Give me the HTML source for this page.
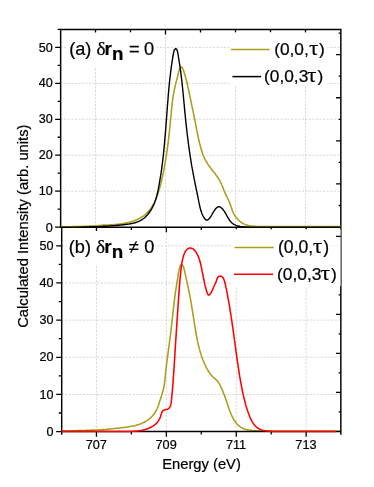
<!DOCTYPE html>
<html><head><meta charset="utf-8"><title>chart</title>
<style>html,body{margin:0;padding:0;background:#fff;}body{width:374px;height:487px;position:relative;overflow:hidden;font-family:"Liberation Sans",sans-serif;}</style>
</head><body>
<svg width="374" height="487" viewBox="0 0 374 487" style="position:absolute;left:0;top:0;will-change:transform">
<rect width="374" height="487" fill="#fff"/>
<path d="M60.50,191.16H341.00M61.50,394.44H341.00M60.50,155.22H341.00M61.50,357.28H341.00M60.50,119.28H341.00M61.50,320.12H341.00M60.50,83.34H341.00M61.50,282.96H341.00M60.50,47.40H341.00M61.50,245.80H341.00M95.50,29.50V227.10M96.45,227.10V431.60M165.50,29.50V227.10M166.35,227.10V431.60M235.50,29.50V227.10M236.25,227.10V431.60M305.50,29.50V227.10M306.15,227.10V431.60" stroke="#c6c6c6" stroke-width="0.7" stroke-dasharray="2.1,1.45" fill="none"/>
<path d="M61.5,431.0 L62.1,431.0 L62.7,431.0 L63.3,431.0 L63.9,431.0 L64.5,431.0 L65.1,430.9 L65.7,430.9 L66.3,430.9 L66.9,430.9 L67.5,430.9 L68.1,430.9 L68.7,430.9 L69.3,430.9 L69.9,430.8 L70.5,430.8 L71.1,430.8 L71.7,430.8 L72.3,430.8 L72.9,430.8 L73.5,430.8 L74.1,430.7 L74.7,430.7 L75.3,430.7 L75.9,430.7 L76.5,430.7 L77.1,430.7 L77.7,430.6 L78.3,430.6 L78.9,430.6 L79.5,430.6 L80.1,430.6 L80.7,430.5 L81.3,430.5 L81.9,430.5 L82.5,430.5 L83.1,430.5 L83.7,430.4 L84.3,430.4 L84.9,430.4 L85.5,430.4 L86.1,430.3 L86.7,430.3 L87.3,430.3 L87.9,430.3 L88.5,430.3 L89.1,430.2 L89.7,430.2 L90.3,430.2 L90.9,430.2 L91.5,430.1 L92.1,430.1 L92.7,430.1 L93.3,430.1 L93.9,430.0 L94.5,430.0 L95.1,430.0 L95.7,430.0 L96.3,429.9 L96.9,429.9 L97.5,429.9 L98.1,429.9 L98.7,429.9 L99.3,429.8 L99.9,429.8 L100.5,429.8 L101.1,429.8 L101.7,429.7 L102.3,429.7 L102.9,429.6 L103.5,429.6 L104.1,429.6 L104.7,429.5 L105.3,429.5 L105.9,429.4 L106.5,429.4 L107.1,429.3 L107.7,429.2 L108.3,429.2 L108.8,429.1 L109.4,429.1 L110.0,429.0 L110.6,428.9 L111.2,428.9 L111.8,428.8 L112.4,428.7 L113.0,428.7 L113.6,428.6 L114.2,428.5 L114.8,428.5 L115.4,428.4 L116.0,428.3 L116.6,428.3 L117.2,428.2 L117.8,428.1 L118.4,428.1 L119.0,428.0 L119.6,427.9 L120.2,427.9 L120.8,427.8 L121.4,427.7 L122.0,427.7 L122.6,427.6 L123.2,427.5 L123.8,427.5 L124.4,427.4 L125.0,427.3 L125.6,427.2 L126.2,427.2 L126.8,427.1 L127.4,427.0 L128.0,426.9 L128.6,426.8 L129.2,426.7 L129.8,426.6 L130.4,426.5 L130.9,426.4 L131.5,426.3 L132.1,426.2 L132.7,426.1 L133.3,426.0 L133.9,425.9 L134.5,425.7 L135.1,425.6 L135.6,425.4 L136.2,425.3 L136.8,425.1 L137.4,425.0 L137.9,424.8 L138.5,424.6 L139.1,424.4 L139.6,424.2 L140.2,424.0 L140.7,423.8 L141.3,423.6 L141.8,423.3 L142.4,423.1 L142.9,422.8 L143.5,422.6 L144.0,422.3 L144.5,422.0 L145.0,421.7 L145.6,421.4 L146.1,421.1 L146.6,420.8 L147.1,420.5 L147.6,420.1 L148.1,419.8 L148.6,419.4 L149.0,419.0 L149.5,418.7 L150.0,418.3 L150.4,417.9 L150.9,417.5 L151.3,417.1 L151.7,416.7 L152.1,416.2 L152.5,415.8 L152.9,415.3 L153.3,414.9 L153.7,414.4 L154.1,414.0 L154.4,413.5 L154.8,413.0 L155.1,412.5 L155.4,412.0 L155.7,411.5 L156.0,411.0 L156.3,410.4 L156.5,409.9 L156.8,409.4 L157.1,408.8 L157.3,408.3 L157.5,407.7 L157.7,407.1 L158.0,406.6 L158.2,406.0 L158.4,405.4 L158.6,404.9 L158.8,404.3 L158.9,403.7 L159.1,403.1 L159.3,402.5 L159.5,402.0 L159.7,401.4 L159.9,400.8 L160.0,400.2 L160.2,399.7 L160.4,399.1 L160.6,398.5 L160.8,397.9 L161.0,397.4 L161.2,396.8 L161.4,396.2 L161.5,395.6 L161.7,395.1 L161.9,394.5 L162.1,393.9 L162.3,393.4 L162.4,392.8 L162.6,392.2 L162.8,391.6 L162.9,391.1 L163.1,390.5 L163.2,389.9 L163.4,389.3 L163.5,388.8 L163.6,388.2 L163.8,387.6 L163.9,387.0 L164.0,386.4 L164.1,385.9 L164.2,385.3 L164.3,384.7 L164.4,384.1 L164.5,383.5 L164.6,382.9 L164.6,382.3 L164.7,381.7 L164.8,381.1 L164.9,380.5 L164.9,379.9 L165.0,379.3 L165.0,378.7 L165.1,378.1 L165.2,377.5 L165.2,376.9 L165.3,376.3 L165.3,375.7 L165.4,375.1 L165.4,374.5 L165.5,373.9 L165.6,373.3 L165.6,372.7 L165.7,372.1 L165.7,371.5 L165.8,370.9 L165.9,370.3 L165.9,369.7 L166.0,369.1 L166.1,368.5 L166.1,367.9 L166.2,367.3 L166.3,366.7 L166.3,366.2 L166.4,365.6 L166.5,365.0 L166.5,364.4 L166.6,363.8 L166.7,363.2 L166.8,362.6 L166.8,362.0 L166.9,361.4 L167.0,360.8 L167.1,360.2 L167.2,359.6 L167.2,359.0 L167.3,358.4 L167.4,357.8 L167.5,357.2 L167.5,356.6 L167.6,356.0 L167.7,355.4 L167.8,354.8 L167.9,354.3 L168.0,353.7 L168.0,353.1 L168.1,352.5 L168.2,351.9 L168.3,351.3 L168.4,350.7 L168.4,350.1 L168.5,349.5 L168.6,348.9 L168.7,348.3 L168.8,347.7 L168.9,347.1 L168.9,346.5 L169.0,345.9 L169.1,345.3 L169.2,344.8 L169.3,344.2 L169.3,343.6 L169.4,343.0 L169.5,342.4 L169.6,341.8 L169.7,341.2 L169.7,340.6 L169.8,340.0 L169.9,339.4 L170.0,338.8 L170.0,338.2 L170.1,337.6 L170.2,337.0 L170.3,336.4 L170.3,335.8 L170.4,335.2 L170.5,334.6 L170.6,334.0 L170.6,333.4 L170.7,332.8 L170.8,332.2 L170.8,331.7 L170.9,331.1 L171.0,330.5 L171.1,329.9 L171.1,329.3 L171.2,328.7 L171.3,328.1 L171.3,327.5 L171.4,326.9 L171.5,326.3 L171.6,325.7 L171.6,325.1 L171.7,324.5 L171.8,323.9 L171.8,323.3 L171.9,322.7 L172.0,322.1 L172.0,321.5 L172.1,320.9 L172.2,320.3 L172.2,319.7 L172.3,319.1 L172.4,318.5 L172.4,317.9 L172.5,317.3 L172.6,316.7 L172.6,316.1 L172.7,315.6 L172.8,315.0 L172.8,314.4 L172.9,313.8 L172.9,313.2 L173.0,312.6 L173.1,312.0 L173.1,311.4 L173.2,310.8 L173.3,310.2 L173.3,309.6 L173.4,309.0 L173.5,308.4 L173.5,307.8 L173.6,307.2 L173.7,306.6 L173.7,306.0 L173.8,305.4 L173.9,304.8 L173.9,304.2 L174.0,303.6 L174.1,303.1 L174.1,302.5 L174.2,301.9 L174.3,301.3 L174.4,300.7 L174.4,300.1 L174.5,299.5 L174.6,298.9 L174.7,298.3 L174.7,297.7 L174.8,297.1 L174.9,296.5 L175.0,295.9 L175.0,295.3 L175.1,294.7 L175.2,294.1 L175.3,293.5 L175.4,292.9 L175.5,292.3 L175.5,291.7 L175.6,291.1 L175.7,290.5 L175.8,289.9 L175.9,289.3 L176.0,288.7 L176.1,288.2 L176.2,287.6 L176.3,287.0 L176.4,286.4 L176.5,285.8 L176.6,285.2 L176.6,284.6 L176.7,284.0 L176.8,283.4 L176.9,282.8 L177.0,282.2 L177.1,281.6 L177.2,281.0 L177.3,280.5 L177.4,279.9 L177.5,279.3 L177.6,278.7 L177.7,278.1 L177.8,277.6 L177.8,277.0 L177.9,276.4 L178.0,275.8 L178.1,275.2 L178.2,274.7 L178.3,274.1 L178.4,273.5 L178.5,272.8 L178.6,272.2 L178.7,271.6 L178.9,270.9 L179.0,270.2 L179.2,269.6 L179.3,268.9 L179.5,268.2 L179.7,267.6 L179.9,266.9 L180.1,266.4 L180.4,265.9 L180.6,265.4 L180.9,265.1 L181.2,264.8 L181.5,264.7 L181.7,264.6 L182.0,264.7 L182.3,264.9 L182.6,265.2 L182.9,265.6 L183.1,266.1 L183.3,266.6 L183.6,267.2 L183.8,267.8 L184.0,268.5 L184.2,269.1 L184.3,269.7 L184.5,270.4 L184.6,271.0 L184.7,271.6 L184.9,272.2 L185.0,272.8 L185.1,273.4 L185.3,274.0 L185.4,274.6 L185.5,275.2 L185.7,275.8 L185.8,276.3 L185.9,276.9 L186.0,277.5 L186.2,278.0 L186.3,278.6 L186.4,279.2 L186.6,279.8 L186.7,280.3 L186.8,280.9 L186.9,281.5 L187.1,282.1 L187.2,282.7 L187.3,283.3 L187.4,283.9 L187.6,284.4 L187.7,285.0 L187.8,285.6 L187.9,286.2 L188.1,286.8 L188.2,287.4 L188.3,288.0 L188.4,288.6 L188.5,289.2 L188.7,289.8 L188.8,290.4 L188.9,291.0 L189.0,291.6 L189.1,292.1 L189.3,292.7 L189.4,293.3 L189.5,293.9 L189.6,294.5 L189.7,295.1 L189.8,295.7 L189.9,296.3 L190.0,296.9 L190.2,297.5 L190.3,298.0 L190.4,298.6 L190.5,299.2 L190.6,299.8 L190.7,300.4 L190.8,301.0 L190.9,301.6 L191.0,302.2 L191.1,302.8 L191.2,303.3 L191.3,303.9 L191.4,304.5 L191.5,305.1 L191.6,305.7 L191.7,306.3 L191.8,306.9 L191.9,307.5 L192.0,308.0 L192.1,308.6 L192.2,309.2 L192.3,309.8 L192.4,310.4 L192.5,311.0 L192.6,311.6 L192.7,312.2 L192.8,312.8 L192.9,313.4 L193.0,314.0 L193.1,314.5 L193.2,315.1 L193.2,315.7 L193.3,316.3 L193.4,316.9 L193.5,317.5 L193.6,318.1 L193.7,318.7 L193.8,319.3 L193.9,319.9 L194.0,320.5 L194.1,321.1 L194.1,321.7 L194.2,322.3 L194.3,322.9 L194.4,323.5 L194.5,324.1 L194.6,324.7 L194.7,325.2 L194.8,325.8 L194.9,326.4 L195.0,327.0 L195.1,327.6 L195.2,328.2 L195.3,328.8 L195.4,329.4 L195.5,330.0 L195.5,330.6 L195.6,331.2 L195.7,331.8 L195.9,332.4 L196.0,333.0 L196.1,333.6 L196.2,334.2 L196.3,334.8 L196.4,335.3 L196.5,335.9 L196.6,336.5 L196.7,337.1 L196.8,337.7 L196.9,338.3 L197.1,338.9 L197.2,339.5 L197.3,340.1 L197.4,340.7 L197.5,341.2 L197.7,341.8 L197.8,342.4 L197.9,343.0 L198.1,343.6 L198.2,344.2 L198.3,344.8 L198.5,345.3 L198.6,345.9 L198.8,346.5 L198.9,347.1 L199.1,347.7 L199.2,348.2 L199.4,348.8 L199.5,349.4 L199.7,350.0 L199.8,350.5 L200.0,351.1 L200.2,351.7 L200.3,352.3 L200.5,352.8 L200.7,353.4 L200.9,354.0 L201.0,354.5 L201.2,355.1 L201.4,355.7 L201.6,356.2 L201.8,356.8 L202.0,357.4 L202.2,357.9 L202.4,358.5 L202.6,359.1 L202.8,359.6 L203.1,360.2 L203.3,360.7 L203.5,361.3 L203.7,361.8 L204.0,362.4 L204.2,362.9 L204.4,363.5 L204.7,364.0 L204.9,364.6 L205.2,365.1 L205.4,365.7 L205.7,366.2 L206.0,366.8 L206.2,367.3 L206.5,367.8 L206.8,368.4 L207.1,368.9 L207.4,369.4 L207.7,369.9 L208.0,370.4 L208.3,371.0 L208.6,371.5 L209.0,372.0 L209.3,372.5 L209.7,372.9 L210.0,373.4 L210.4,373.9 L210.7,374.4 L211.1,374.9 L211.5,375.3 L211.9,375.8 L212.3,376.2 L212.7,376.6 L213.1,377.1 L213.6,377.5 L214.0,377.9 L214.5,378.3 L214.9,378.7 L215.4,379.1 L215.8,379.6 L216.3,380.0 L216.7,380.4 L217.1,380.8 L217.5,381.3 L217.9,381.7 L218.3,382.2 L218.6,382.7 L218.9,383.2 L219.2,383.7 L219.5,384.2 L219.8,384.7 L220.1,385.2 L220.3,385.8 L220.6,386.3 L220.8,386.9 L221.1,387.4 L221.4,388.0 L221.6,388.5 L221.9,389.1 L222.1,389.6 L222.3,390.2 L222.6,390.8 L222.8,391.3 L223.1,391.9 L223.3,392.4 L223.5,393.0 L223.7,393.6 L224.0,394.1 L224.2,394.7 L224.4,395.2 L224.6,395.8 L224.8,396.4 L225.0,396.9 L225.2,397.5 L225.4,398.1 L225.6,398.6 L225.8,399.2 L226.0,399.8 L226.2,400.3 L226.4,400.9 L226.6,401.4 L226.8,402.0 L227.0,402.6 L227.1,403.1 L227.3,403.7 L227.5,404.2 L227.7,404.8 L227.9,405.4 L228.1,405.9 L228.3,406.5 L228.4,407.1 L228.6,407.6 L228.8,408.2 L229.0,408.8 L229.2,409.3 L229.4,409.9 L229.6,410.5 L229.8,411.0 L230.1,411.6 L230.3,412.2 L230.5,412.7 L230.7,413.3 L231.0,413.9 L231.2,414.4 L231.5,415.0 L231.7,415.6 L232.0,416.1 L232.3,416.7 L232.5,417.2 L232.8,417.8 L233.1,418.3 L233.4,418.8 L233.7,419.4 L234.0,419.9 L234.4,420.4 L234.7,420.9 L235.0,421.4 L235.4,421.9 L235.7,422.4 L236.1,422.8 L236.5,423.3 L236.8,423.7 L237.2,424.2 L237.6,424.6 L238.0,425.0 L238.5,425.4 L238.9,425.8 L239.3,426.2 L239.8,426.5 L240.3,426.9 L240.7,427.2 L241.2,427.5 L241.7,427.8 L242.2,428.1 L242.8,428.3 L243.3,428.6 L243.8,428.8 L244.4,429.0 L245.0,429.2 L245.5,429.4 L246.1,429.5 L246.7,429.7 L247.3,429.8 L247.9,429.9 L248.6,430.0 L249.2,430.1 L249.8,430.2 L250.4,430.3 L251.1,430.3 L251.7,430.4 L252.3,430.5 L252.9,430.5 L253.6,430.6 L254.2,430.6 L254.8,430.6 L255.4,430.7 L256.0,430.7 L256.6,430.7 L257.2,430.8 L257.8,430.8 L258.4,430.8 L259.0,430.9 L259.5,430.9 L260.1,431.0 L260.7,431.0 L261.3,431.0 L261.8,431.0 L262.4,431.1 L263.0,431.1 L263.6,431.1 L264.2,431.1 L264.8,431.1 L265.4,431.1 L266.0,431.2 L266.6,431.2 L267.2,431.2 L267.8,431.2 L268.4,431.2 L269.0,431.2 L269.6,431.2 L270.2,431.2 L270.8,431.2 L271.4,431.2 L272.0,431.2 L272.6,431.2 L273.2,431.2 L273.8,431.2 L274.4,431.2 L275.0,431.2 L275.6,431.2 L276.2,431.2 L276.8,431.2 L277.4,431.2 L278.0,431.2 L278.6,431.2 L279.2,431.2 L279.8,431.2 L280.4,431.2 L281.0,431.2 L281.6,431.2 L282.2,431.2 L282.8,431.2 L283.4,431.2 L284.0,431.2 L284.6,431.2 L285.2,431.2 L285.8,431.2 L286.4,431.2 L287.0,431.2 L287.6,431.2 L288.2,431.3 L288.8,431.3 L289.4,431.3 L290.0,431.3 L290.6,431.3 L291.2,431.3 L291.8,431.3 L292.4,431.3 L293.0,431.3 L293.6,431.3 L294.2,431.3 L294.8,431.3 L295.4,431.3 L296.0,431.3 L296.6,431.3 L297.2,431.3 L297.8,431.3 L298.4,431.3 L299.0,431.3 L299.6,431.3 L300.2,431.3 L300.8,431.3 L301.4,431.3 L302.0,431.3 L302.6,431.3 L303.2,431.3 L303.8,431.3 L304.4,431.3 L305.0,431.3 L305.6,431.3 L306.2,431.3 L306.8,431.3 L307.4,431.3 L308.0,431.3 L308.6,431.3 L309.2,431.3 L309.8,431.3 L310.4,431.3 L311.0,431.3 L311.6,431.3 L312.2,431.3 L312.8,431.3 L313.4,431.3 L314.0,431.3 L314.6,431.3 L315.2,431.3 L315.8,431.3 L316.4,431.3 L317.0,431.3 L317.6,431.3 L318.2,431.3 L318.8,431.3 L319.4,431.3 L320.0,431.3 L320.6,431.3 L321.2,431.3 L321.8,431.3 L322.4,431.3 L323.0,431.3 L323.6,431.3 L324.2,431.3 L324.8,431.3 L325.4,431.3 L326.0,431.3 L326.6,431.3 L327.2,431.3 L327.8,431.3 L328.4,431.3 L329.0,431.3 L329.6,431.3 L330.2,431.3 L330.8,431.3 L331.4,431.3 L332.0,431.3 L332.6,431.3 L333.2,431.3 L333.8,431.3 L334.4,431.3 L335.0,431.3 L335.6,431.3 L336.2,431.3 L336.8,431.3 L337.4,431.3 L338.0,431.3 L338.6,431.3 L339.2,431.3 L339.8,431.3 L340.4,431.3 L341.0,431.3" stroke="#a89e1a" stroke-width="1.55" fill="none" stroke-linejoin="round"/>
<path d="M60.65,28.75V227.25M61.70,227.25V434.70M59.95,29.45H341.55M59.95,227.25H341.55M61.00,431.50H341.55M340.85,28.75V434.70" stroke="#000" stroke-width="1.45" fill="none"/>
<path d="M60.65,227.10h-5.50M61.70,431.60h-5.50M60.65,209.13h-3.00M61.70,413.02h-3.00M60.65,191.16h-5.50M61.70,394.44h-5.50M60.65,173.19h-3.00M61.70,375.86h-3.00M60.65,155.22h-5.50M61.70,357.28h-5.50M60.65,137.25h-3.00M61.70,338.70h-3.00M60.65,119.28h-5.50M61.70,320.12h-5.50M60.65,101.31h-3.00M61.70,301.54h-3.00M60.65,83.34h-5.50M61.70,282.96h-5.50M60.65,65.37h-3.00M61.70,264.38h-3.00M60.65,47.40h-5.50M61.70,245.80h-5.50M60.65,29.43h-3.00M340.85,205.50h-2.20M340.85,183.95h-4.80M340.85,162.40h-2.20M340.85,140.85h-4.80M340.85,119.30h-2.20M340.85,97.75h-4.80M340.85,76.20h-2.20M340.85,54.65h-4.80M340.85,33.10h-2.20M340.85,236.40h-4.80M340.85,294.90h-2.20M340.85,314.40h-4.80M340.85,333.90h-2.20M340.85,353.40h-4.80M340.85,372.90h-2.20M340.85,392.40h-4.80M340.85,411.90h-2.20M95.50,29.45v5.00M96.45,227.25v4.90M96.45,431.50v5.30M130.50,29.45v3.00M131.40,227.25v2.80M131.40,431.50v2.90M165.50,29.45v5.00M166.35,227.25v4.90M166.35,431.50v5.30M200.50,29.45v3.00M201.30,227.25v2.80M201.30,431.50v2.90M235.50,29.45v5.00M236.25,227.25v4.90M236.25,431.50v5.30M270.50,29.45v3.00M271.20,227.25v2.80M271.20,431.50v2.90M305.50,29.45v5.00M306.15,227.25v4.90M306.15,431.50v5.30" stroke="#000" stroke-width="1.3" fill="none"/>
<rect x="67.5" y="32.5" width="88.7" height="34" fill="#fff"/>
<rect x="66.5" y="231" width="88.7" height="33.5" fill="#fff"/>
<rect x="230" y="32.4" width="97.5" height="52.6" fill="#fff"/>
<rect x="232.3" y="229.3" width="108.3" height="56.7" fill="#fff"/>
<path d="M340.85,236.4h-4.8" stroke="#000" stroke-width="1.3" fill="none"/>
<path d="M329,245.6H338.5" stroke="#e2e2e2" stroke-width="0.7" stroke-dasharray="2.1,1.45" fill="none"/>
<path d="M61.0,226.8 L61.6,226.8 L62.2,226.8 L62.8,226.8 L63.4,226.8 L64.0,226.8 L64.6,226.8 L65.2,226.8 L65.8,226.8 L66.4,226.7 L67.0,226.7 L67.6,226.7 L68.2,226.7 L68.8,226.7 L69.4,226.7 L70.0,226.7 L70.6,226.7 L71.2,226.7 L71.8,226.6 L72.4,226.6 L73.0,226.6 L73.6,226.6 L74.2,226.6 L74.8,226.6 L75.4,226.6 L76.0,226.5 L76.6,226.5 L77.2,226.5 L77.8,226.5 L78.4,226.5 L79.0,226.5 L79.6,226.5 L80.2,226.4 L80.8,226.4 L81.4,226.4 L82.0,226.4 L82.6,226.4 L83.2,226.4 L83.8,226.3 L84.4,226.3 L85.0,226.3 L85.6,226.3 L86.2,226.3 L86.8,226.2 L87.4,226.2 L88.0,226.2 L88.6,226.2 L89.2,226.1 L89.8,226.1 L90.4,226.1 L91.0,226.0 L91.6,226.0 L92.2,226.0 L92.8,226.0 L93.4,225.9 L94.0,225.9 L94.6,225.9 L95.2,225.8 L95.8,225.8 L96.4,225.8 L97.0,225.7 L97.6,225.7 L98.2,225.6 L98.8,225.6 L99.4,225.5 L100.0,225.5 L100.6,225.4 L101.2,225.3 L101.8,225.3 L102.4,225.2 L103.0,225.2 L103.6,225.1 L104.2,225.1 L104.8,225.1 L105.4,225.0 L106.0,225.0 L106.6,225.0 L107.2,225.0 L107.8,224.9 L108.4,224.9 L109.0,224.9 L109.5,224.9 L110.1,224.8 L110.7,224.8 L111.3,224.8 L111.9,224.7 L112.5,224.7 L113.1,224.7 L113.7,224.6 L114.3,224.6 L114.9,224.5 L115.5,224.5 L116.1,224.4 L116.6,224.4 L117.2,224.3 L117.8,224.3 L118.4,224.2 L119.0,224.2 L119.6,224.1 L120.2,224.0 L120.8,223.9 L121.4,223.8 L122.0,223.8 L122.6,223.7 L123.2,223.6 L123.8,223.5 L124.4,223.3 L125.0,223.2 L125.6,223.1 L126.2,223.0 L126.8,222.8 L127.4,222.7 L128.0,222.6 L128.6,222.4 L129.2,222.3 L129.8,222.1 L130.4,221.9 L131.0,221.8 L131.6,221.6 L132.1,221.4 L132.7,221.2 L133.3,221.0 L133.9,220.8 L134.4,220.6 L135.0,220.4 L135.6,220.2 L136.1,219.9 L136.7,219.7 L137.2,219.4 L137.8,219.2 L138.3,218.9 L138.8,218.7 L139.4,218.4 L139.9,218.1 L140.4,217.8 L140.9,217.5 L141.4,217.2 L141.9,216.9 L142.4,216.6 L142.9,216.3 L143.4,215.9 L143.9,215.6 L144.4,215.2 L144.8,214.9 L145.3,214.5 L145.7,214.1 L146.2,213.7 L146.6,213.4 L147.0,212.9 L147.4,212.5 L147.8,212.1 L148.2,211.7 L148.6,211.3 L149.0,210.8 L149.4,210.4 L149.7,209.9 L150.1,209.5 L150.5,209.0 L150.8,208.5 L151.1,208.0 L151.5,207.5 L151.8,207.0 L152.1,206.5 L152.4,206.0 L152.7,205.5 L153.0,205.0 L153.3,204.5 L153.6,203.9 L153.9,203.4 L154.2,202.9 L154.4,202.3 L154.7,201.8 L154.9,201.2 L155.2,200.7 L155.4,200.1 L155.7,199.6 L155.9,199.0 L156.2,198.4 L156.4,197.9 L156.6,197.3 L156.8,196.7 L157.0,196.1 L157.3,195.6 L157.5,195.0 L157.7,194.4 L157.9,193.8 L158.1,193.2 L158.3,192.6 L158.4,192.1 L158.6,191.5 L158.8,190.9 L159.0,190.3 L159.2,189.7 L159.3,189.1 L159.5,188.6 L159.7,188.0 L159.8,187.4 L160.0,186.8 L160.2,186.2 L160.3,185.6 L160.5,185.1 L160.6,184.5 L160.8,183.9 L160.9,183.3 L161.1,182.7 L161.2,182.1 L161.3,181.6 L161.5,181.0 L161.6,180.4 L161.8,179.8 L161.9,179.2 L162.0,178.7 L162.2,178.1 L162.3,177.5 L162.4,176.9 L162.5,176.3 L162.7,175.8 L162.8,175.2 L162.9,174.6 L163.0,174.0 L163.1,173.4 L163.3,172.9 L163.4,172.3 L163.5,171.7 L163.6,171.1 L163.7,170.5 L163.8,170.0 L163.9,169.4 L164.0,168.8 L164.1,168.2 L164.3,167.6 L164.4,167.0 L164.5,166.5 L164.6,165.9 L164.7,165.3 L164.8,164.7 L164.9,164.1 L165.0,163.5 L165.1,162.9 L165.2,162.3 L165.3,161.8 L165.4,161.2 L165.5,160.6 L165.6,160.0 L165.7,159.4 L165.8,158.8 L165.9,158.2 L166.0,157.6 L166.1,157.0 L166.2,156.4 L166.3,155.8 L166.4,155.2 L166.4,154.6 L166.5,154.0 L166.6,153.4 L166.7,152.8 L166.8,152.2 L166.9,151.6 L167.0,151.1 L167.1,150.5 L167.2,149.9 L167.3,149.3 L167.3,148.7 L167.4,148.1 L167.5,147.5 L167.6,146.9 L167.7,146.3 L167.8,145.7 L167.8,145.1 L167.9,144.5 L168.0,143.9 L168.1,143.3 L168.1,142.7 L168.2,142.1 L168.3,141.5 L168.4,140.9 L168.4,140.3 L168.5,139.7 L168.6,139.1 L168.7,138.5 L168.7,137.9 L168.8,137.3 L168.9,136.7 L168.9,136.1 L169.0,135.5 L169.1,134.9 L169.1,134.3 L169.2,133.7 L169.3,133.1 L169.3,132.5 L169.4,131.9 L169.4,131.3 L169.5,130.7 L169.6,130.2 L169.6,129.6 L169.7,129.0 L169.7,128.4 L169.8,127.8 L169.9,127.2 L169.9,126.6 L170.0,126.0 L170.0,125.4 L170.1,124.8 L170.2,124.2 L170.2,123.6 L170.3,123.0 L170.3,122.4 L170.4,121.8 L170.4,121.2 L170.5,120.6 L170.5,120.0 L170.6,119.4 L170.7,118.8 L170.7,118.2 L170.8,117.6 L170.8,117.1 L170.9,116.5 L170.9,115.9 L171.0,115.3 L171.1,114.7 L171.1,114.1 L171.2,113.5 L171.2,112.9 L171.3,112.3 L171.3,111.7 L171.4,111.1 L171.5,110.5 L171.5,109.9 L171.6,109.3 L171.6,108.7 L171.7,108.1 L171.8,107.5 L171.8,106.9 L171.9,106.3 L171.9,105.7 L172.0,105.1 L172.1,104.5 L172.1,103.9 L172.2,103.3 L172.3,102.7 L172.4,102.1 L172.4,101.5 L172.5,100.9 L172.6,100.3 L172.7,99.7 L172.8,99.1 L172.8,98.6 L172.9,98.0 L173.0,97.4 L173.1,96.8 L173.2,96.2 L173.3,95.6 L173.4,95.0 L173.5,94.4 L173.6,93.8 L173.7,93.2 L173.8,92.6 L173.9,92.0 L174.0,91.4 L174.1,90.8 L174.2,90.3 L174.4,89.7 L174.5,89.1 L174.6,88.5 L174.7,87.9 L174.9,87.3 L175.0,86.7 L175.2,86.2 L175.3,85.6 L175.4,85.0 L175.6,84.4 L175.7,83.8 L175.9,83.2 L176.0,82.7 L176.2,82.1 L176.3,81.5 L176.5,80.9 L176.6,80.3 L176.8,79.8 L176.9,79.2 L177.1,78.6 L177.2,78.0 L177.4,77.5 L177.5,76.9 L177.7,76.3 L177.8,75.8 L177.9,75.2 L178.1,74.6 L178.2,74.0 L178.3,73.5 L178.5,72.9 L178.6,72.3 L178.8,71.6 L178.9,71.0 L179.2,70.3 L179.4,69.6 L179.7,69.0 L180.0,68.4 L180.4,67.9 L180.7,67.4 L181.1,67.1 L181.5,67.0 L181.8,67.0 L182.1,67.3 L182.4,67.7 L182.6,68.2 L182.8,68.7 L183.0,69.3 L183.3,69.9 L183.5,70.4 L183.7,71.0 L183.9,71.6 L184.0,72.2 L184.2,72.7 L184.4,73.3 L184.6,73.9 L184.8,74.5 L185.0,75.1 L185.1,75.6 L185.3,76.2 L185.5,76.8 L185.6,77.4 L185.8,78.0 L185.9,78.5 L186.1,79.1 L186.2,79.7 L186.4,80.3 L186.5,80.9 L186.7,81.4 L186.8,82.0 L186.9,82.6 L187.1,83.2 L187.2,83.8 L187.4,84.4 L187.5,84.9 L187.6,85.5 L187.8,86.1 L187.9,86.7 L188.0,87.3 L188.1,87.9 L188.3,88.5 L188.4,89.0 L188.5,89.6 L188.6,90.2 L188.8,90.8 L188.9,91.4 L189.0,92.0 L189.1,92.6 L189.2,93.1 L189.4,93.7 L189.5,94.3 L189.6,94.9 L189.7,95.5 L189.9,96.1 L190.0,96.7 L190.1,97.3 L190.2,97.8 L190.3,98.4 L190.5,99.0 L190.6,99.6 L190.7,100.2 L190.8,100.8 L191.0,101.4 L191.1,102.0 L191.2,102.5 L191.3,103.1 L191.5,103.7 L191.6,104.3 L191.7,104.9 L191.8,105.5 L192.0,106.1 L192.1,106.7 L192.2,107.2 L192.3,107.8 L192.5,108.4 L192.6,109.0 L192.7,109.6 L192.8,110.2 L193.0,110.8 L193.1,111.4 L193.2,112.0 L193.3,112.5 L193.4,113.1 L193.6,113.7 L193.7,114.3 L193.8,114.9 L193.9,115.5 L194.0,116.1 L194.2,116.7 L194.3,117.2 L194.4,117.8 L194.5,118.4 L194.6,119.0 L194.8,119.6 L194.9,120.2 L195.0,120.8 L195.1,121.4 L195.2,121.9 L195.3,122.5 L195.4,123.1 L195.5,123.7 L195.7,124.3 L195.8,124.9 L195.9,125.5 L196.0,126.1 L196.1,126.6 L196.2,127.2 L196.3,127.8 L196.4,128.4 L196.6,129.0 L196.7,129.6 L196.8,130.2 L196.9,130.8 L197.0,131.3 L197.1,131.9 L197.3,132.5 L197.4,133.1 L197.5,133.7 L197.6,134.3 L197.7,134.9 L197.9,135.4 L198.0,136.0 L198.1,136.6 L198.2,137.2 L198.4,137.8 L198.5,138.4 L198.6,139.0 L198.7,139.6 L198.9,140.1 L199.0,140.7 L199.1,141.3 L199.3,141.9 L199.4,142.5 L199.6,143.1 L199.7,143.7 L199.9,144.2 L200.0,144.8 L200.2,145.4 L200.3,146.0 L200.5,146.6 L200.6,147.2 L200.8,147.7 L200.9,148.3 L201.1,148.9 L201.3,149.5 L201.5,150.1 L201.6,150.6 L201.8,151.2 L202.0,151.8 L202.2,152.4 L202.4,152.9 L202.6,153.5 L202.8,154.1 L203.0,154.6 L203.2,155.2 L203.4,155.8 L203.7,156.3 L203.9,156.9 L204.1,157.4 L204.4,158.0 L204.6,158.5 L204.9,159.0 L205.1,159.6 L205.4,160.1 L205.7,160.6 L206.0,161.2 L206.3,161.7 L206.6,162.2 L206.9,162.7 L207.2,163.2 L207.5,163.7 L207.8,164.2 L208.2,164.7 L208.5,165.2 L208.8,165.7 L209.2,166.2 L209.5,166.6 L209.9,167.1 L210.3,167.6 L210.6,168.1 L211.0,168.6 L211.4,169.0 L211.8,169.5 L212.1,170.0 L212.5,170.4 L212.9,170.9 L213.3,171.4 L213.6,171.8 L214.0,172.3 L214.4,172.8 L214.7,173.3 L215.1,173.7 L215.5,174.2 L215.8,174.7 L216.2,175.2 L216.5,175.7 L216.9,176.2 L217.2,176.7 L217.6,177.2 L217.9,177.6 L218.2,178.1 L218.5,178.7 L218.9,179.2 L219.2,179.7 L219.5,180.2 L219.8,180.7 L220.0,181.2 L220.3,181.8 L220.6,182.3 L220.9,182.8 L221.1,183.4 L221.4,183.9 L221.6,184.5 L221.8,185.0 L222.1,185.6 L222.3,186.1 L222.5,186.7 L222.8,187.2 L223.0,187.8 L223.2,188.4 L223.4,188.9 L223.6,189.5 L223.9,190.1 L224.1,190.6 L224.3,191.2 L224.5,191.7 L224.8,192.3 L225.0,192.8 L225.2,193.4 L225.5,193.9 L225.7,194.5 L226.0,195.0 L226.3,195.6 L226.5,196.1 L226.8,196.6 L227.1,197.2 L227.3,197.7 L227.6,198.3 L227.9,198.8 L228.1,199.3 L228.4,199.9 L228.6,200.4 L228.9,201.0 L229.1,201.5 L229.4,202.0 L229.6,202.6 L229.8,203.2 L230.0,203.7 L230.2,204.3 L230.4,204.9 L230.6,205.4 L230.8,206.0 L231.0,206.6 L231.2,207.1 L231.4,207.7 L231.6,208.3 L231.8,208.9 L232.0,209.4 L232.2,210.0 L232.4,210.6 L232.6,211.1 L232.8,211.7 L233.0,212.2 L233.3,212.8 L233.5,213.3 L233.8,213.9 L234.1,214.4 L234.4,214.9 L234.7,215.4 L235.0,215.9 L235.4,216.4 L235.7,216.9 L236.1,217.4 L236.5,217.9 L236.9,218.3 L237.3,218.8 L237.7,219.2 L238.1,219.7 L238.5,220.1 L239.0,220.5 L239.4,220.9 L239.9,221.3 L240.3,221.6 L240.8,222.0 L241.3,222.4 L241.8,222.7 L242.3,223.0 L242.8,223.3 L243.3,223.6 L243.9,223.9 L244.4,224.1 L244.9,224.3 L245.5,224.6 L246.0,224.8 L246.6,225.0 L247.2,225.1 L247.7,225.3 L248.3,225.4 L248.9,225.6 L249.5,225.7 L250.0,225.8 L250.6,225.9 L251.2,226.0 L251.8,226.1 L252.4,226.1 L253.0,226.2 L253.6,226.2 L254.2,226.3 L254.8,226.3 L255.4,226.3 L256.1,226.4 L256.7,226.4 L257.3,226.4 L257.9,226.4 L258.5,226.4 L259.1,226.4 L259.7,226.4 L260.3,226.4 L260.9,226.4 L261.5,226.4 L262.1,226.4 L262.7,226.4 L263.3,226.4 L263.9,226.4 L264.5,226.4 L265.1,226.4 L265.7,226.4 L266.3,226.4 L266.9,226.4 L267.5,226.4 L268.1,226.4 L268.7,226.4 L269.3,226.4 L269.9,226.4 L270.5,226.4 L271.1,226.4 L271.7,226.4 L272.3,226.4 L272.9,226.4 L273.5,226.4 L274.1,226.4 L274.7,226.4 L275.3,226.4 L275.9,226.4 L276.5,226.4 L277.1,226.4 L277.7,226.4 L278.3,226.4 L278.9,226.4 L279.5,226.4 L280.1,226.4 L280.7,226.4 L281.3,226.4 L281.9,226.4 L282.5,226.4 L283.1,226.4 L283.7,226.4 L284.3,226.4 L284.9,226.4 L285.5,226.4 L286.1,226.4 L286.7,226.4 L287.3,226.4 L287.9,226.4 L288.5,226.4 L289.1,226.4 L289.7,226.4 L290.3,226.4 L290.9,226.4 L291.5,226.4 L292.1,226.4 L292.7,226.4 L293.3,226.4 L293.9,226.4 L294.5,226.4 L295.1,226.4 L295.7,226.4 L296.3,226.4 L296.9,226.4 L297.5,226.4 L298.1,226.4 L298.7,226.4 L299.3,226.4 L299.9,226.4 L300.5,226.4 L301.1,226.4 L301.7,226.4 L302.3,226.4 L302.9,226.4 L303.5,226.4 L304.1,226.4 L304.7,226.4 L305.3,226.4 L305.9,226.4 L306.5,226.4 L307.1,226.4 L307.7,226.4 L308.3,226.4 L308.9,226.4 L309.5,226.4 L310.1,226.4 L310.7,226.4 L311.3,226.4 L311.9,226.4 L312.5,226.4 L313.1,226.4 L313.7,226.4 L314.3,226.4 L314.9,226.4 L315.5,226.4 L316.1,226.4 L316.7,226.4 L317.3,226.4 L317.9,226.4 L318.5,226.4 L319.1,226.4 L319.7,226.4 L320.3,226.4 L320.9,226.4 L321.5,226.4 L322.1,226.4 L322.7,226.4 L323.3,226.4 L323.9,226.4 L324.5,226.4 L325.1,226.4 L325.7,226.4 L326.3,226.4 L326.9,226.4 L327.5,226.4 L328.1,226.4 L328.7,226.4 L329.3,226.4 L329.9,226.4 L330.5,226.4 L331.1,226.4 L331.7,226.4 L332.3,226.4 L332.9,226.4 L333.5,226.4 L334.1,226.4 L334.7,226.4 L335.3,226.4 L335.9,226.4 L336.5,226.4 L337.1,226.4 L337.7,226.4 L338.3,226.4 L338.9,226.4 L339.5,226.4 L340.1,226.4 L340.7,226.4 L341.3,226.4" stroke="#a89e1a" stroke-width="1.55" fill="none" stroke-linejoin="round"/>
<path d="M61.0,227.2 L61.6,227.2 L62.2,227.2 L62.8,227.2 L63.4,227.2 L64.0,227.2 L64.6,227.2 L65.2,227.2 L65.8,227.2 L66.4,227.2 L67.0,227.2 L67.6,227.2 L68.2,227.2 L68.8,227.2 L69.4,227.2 L70.0,227.2 L70.6,227.2 L71.2,227.1 L71.8,227.1 L72.4,227.1 L73.0,227.1 L73.6,227.1 L74.2,227.1 L74.8,227.1 L75.4,227.1 L76.0,227.1 L76.6,227.1 L77.2,227.1 L77.8,227.1 L78.4,227.1 L79.0,227.1 L79.6,227.0 L80.2,227.0 L80.8,227.0 L81.4,227.0 L82.0,227.0 L82.6,227.0 L83.2,227.0 L83.8,227.0 L84.4,227.0 L85.0,226.9 L85.6,226.9 L86.2,226.9 L86.8,226.9 L87.4,226.9 L88.0,226.9 L88.6,226.9 L89.2,226.9 L89.8,226.8 L90.4,226.8 L91.0,226.8 L91.6,226.8 L92.2,226.8 L92.8,226.8 L93.4,226.8 L94.0,226.7 L94.6,226.7 L95.2,226.7 L95.8,226.7 L96.4,226.7 L97.0,226.7 L97.6,226.6 L98.2,226.6 L98.8,226.6 L99.4,226.6 L100.0,226.5 L100.6,226.5 L101.2,226.5 L101.8,226.4 L102.4,226.4 L103.0,226.4 L103.6,226.3 L104.2,226.3 L104.8,226.3 L105.4,226.2 L106.0,226.2 L106.6,226.2 L107.2,226.1 L107.8,226.1 L108.4,226.0 L109.0,226.0 L109.6,226.0 L110.2,225.9 L110.8,225.9 L111.4,225.8 L112.0,225.8 L112.5,225.8 L113.1,225.7 L113.7,225.7 L114.3,225.6 L114.9,225.6 L115.5,225.5 L116.1,225.5 L116.7,225.4 L117.3,225.4 L117.9,225.3 L118.5,225.3 L119.1,225.2 L119.7,225.1 L120.3,225.1 L120.9,225.0 L121.5,225.0 L122.1,224.9 L122.7,224.8 L123.3,224.8 L123.9,224.7 L124.5,224.6 L125.1,224.5 L125.7,224.5 L126.3,224.4 L126.9,224.3 L127.5,224.2 L128.1,224.1 L128.7,224.1 L129.3,224.0 L129.9,223.9 L130.5,223.8 L131.1,223.7 L131.7,223.5 L132.3,223.4 L132.9,223.3 L133.5,223.1 L134.1,223.0 L134.6,222.8 L135.2,222.7 L135.8,222.5 L136.4,222.3 L136.9,222.1 L137.5,221.9 L138.0,221.7 L138.6,221.5 L139.1,221.2 L139.6,221.0 L140.2,220.7 L140.7,220.4 L141.2,220.1 L141.7,219.8 L142.2,219.5 L142.7,219.2 L143.2,218.8 L143.6,218.4 L144.1,218.1 L144.6,217.7 L145.0,217.3 L145.5,216.9 L145.9,216.5 L146.3,216.0 L146.7,215.6 L147.1,215.2 L147.5,214.7 L147.9,214.3 L148.3,213.8 L148.7,213.3 L149.1,212.8 L149.4,212.3 L149.8,211.8 L150.1,211.3 L150.5,210.8 L150.8,210.3 L151.1,209.8 L151.4,209.3 L151.7,208.8 L152.0,208.3 L152.3,207.7 L152.6,207.2 L152.8,206.7 L153.1,206.1 L153.4,205.6 L153.6,205.1 L153.8,204.5 L154.1,204.0 L154.3,203.4 L154.5,202.9 L154.7,202.3 L154.9,201.7 L155.1,201.2 L155.3,200.6 L155.5,200.0 L155.7,199.5 L155.9,198.9 L156.1,198.3 L156.2,197.8 L156.4,197.2 L156.6,196.6 L156.7,196.0 L156.9,195.4 L157.0,194.9 L157.2,194.3 L157.3,193.7 L157.4,193.1 L157.6,192.5 L157.7,191.9 L157.8,191.3 L158.0,190.7 L158.1,190.2 L158.2,189.6 L158.3,189.0 L158.4,188.4 L158.6,187.8 L158.7,187.2 L158.8,186.6 L158.9,186.0 L159.0,185.4 L159.1,184.8 L159.2,184.2 L159.3,183.6 L159.4,183.1 L159.5,182.5 L159.6,181.9 L159.7,181.3 L159.8,180.7 L159.9,180.1 L160.0,179.5 L160.1,178.9 L160.2,178.3 L160.3,177.7 L160.4,177.1 L160.5,176.5 L160.6,175.9 L160.7,175.4 L160.8,174.8 L160.9,174.2 L161.0,173.6 L161.1,173.0 L161.2,172.4 L161.2,171.8 L161.3,171.2 L161.4,170.6 L161.5,170.0 L161.6,169.4 L161.7,168.8 L161.7,168.2 L161.8,167.6 L161.9,167.0 L162.0,166.4 L162.1,165.9 L162.1,165.3 L162.2,164.7 L162.3,164.1 L162.4,163.5 L162.4,162.9 L162.5,162.3 L162.6,161.7 L162.7,161.1 L162.7,160.5 L162.8,159.9 L162.9,159.3 L162.9,158.7 L163.0,158.1 L163.1,157.5 L163.1,156.9 L163.2,156.3 L163.3,155.7 L163.3,155.1 L163.4,154.6 L163.5,154.0 L163.5,153.4 L163.6,152.8 L163.6,152.2 L163.7,151.6 L163.8,151.0 L163.8,150.4 L163.9,149.8 L164.0,149.2 L164.0,148.6 L164.1,148.0 L164.1,147.4 L164.2,146.8 L164.2,146.2 L164.3,145.6 L164.4,145.0 L164.4,144.4 L164.5,143.8 L164.5,143.2 L164.6,142.6 L164.6,142.0 L164.7,141.4 L164.7,140.8 L164.8,140.2 L164.8,139.6 L164.9,139.0 L164.9,138.4 L165.0,137.8 L165.0,137.2 L165.1,136.6 L165.1,136.0 L165.2,135.5 L165.2,134.9 L165.3,134.3 L165.3,133.7 L165.4,133.1 L165.4,132.5 L165.5,131.9 L165.5,131.3 L165.6,130.7 L165.6,130.1 L165.7,129.5 L165.7,128.9 L165.8,128.3 L165.8,127.7 L165.9,127.1 L165.9,126.5 L166.0,125.9 L166.0,125.3 L166.0,124.7 L166.1,124.1 L166.1,123.5 L166.2,122.9 L166.2,122.3 L166.3,121.7 L166.3,121.1 L166.4,120.5 L166.4,119.9 L166.5,119.3 L166.5,118.7 L166.5,118.1 L166.6,117.5 L166.6,116.9 L166.7,116.3 L166.7,115.7 L166.8,115.1 L166.8,114.5 L166.9,113.9 L166.9,113.3 L166.9,112.7 L167.0,112.1 L167.0,111.5 L167.1,110.9 L167.1,110.3 L167.2,109.7 L167.2,109.1 L167.3,108.5 L167.3,107.9 L167.3,107.3 L167.4,106.7 L167.4,106.1 L167.5,105.5 L167.5,104.9 L167.6,104.3 L167.6,103.7 L167.7,103.1 L167.7,102.5 L167.8,101.9 L167.8,101.3 L167.9,100.7 L167.9,100.1 L168.0,99.5 L168.0,98.9 L168.1,98.3 L168.1,97.7 L168.1,97.1 L168.2,96.5 L168.2,95.9 L168.3,95.3 L168.3,94.7 L168.4,94.1 L168.4,93.5 L168.5,92.9 L168.6,92.3 L168.6,91.7 L168.7,91.1 L168.7,90.6 L168.8,90.0 L168.8,89.4 L168.9,88.8 L168.9,88.2 L169.0,87.6 L169.0,87.0 L169.1,86.4 L169.2,85.8 L169.2,85.2 L169.3,84.6 L169.3,84.0 L169.4,83.4 L169.4,82.8 L169.5,82.2 L169.6,81.6 L169.6,81.0 L169.7,80.4 L169.8,79.8 L169.8,79.2 L169.9,78.6 L170.0,78.0 L170.0,77.4 L170.1,76.8 L170.2,76.3 L170.2,75.7 L170.3,75.1 L170.4,74.5 L170.4,73.9 L170.5,73.3 L170.6,72.7 L170.7,72.1 L170.7,71.5 L170.8,70.9 L170.9,70.3 L171.0,69.7 L171.0,69.2 L171.1,68.6 L171.2,68.0 L171.3,67.4 L171.4,66.8 L171.4,66.2 L171.5,65.6 L171.6,65.0 L171.7,64.4 L171.8,63.8 L171.9,63.2 L172.0,62.6 L172.0,62.0 L172.1,61.4 L172.2,60.8 L172.3,60.2 L172.4,59.6 L172.5,59.0 L172.6,58.4 L172.7,57.8 L172.8,57.2 L172.9,56.6 L173.0,55.9 L173.1,55.3 L173.2,54.7 L173.3,54.1 L173.4,53.5 L173.5,52.9 L173.7,52.3 L173.8,51.7 L174.0,51.1 L174.2,50.6 L174.4,50.0 L174.7,49.6 L175.0,49.2 L175.3,48.9 L175.6,48.7 L175.9,48.7 L176.2,48.9 L176.5,49.2 L176.8,49.6 L177.0,50.1 L177.2,50.6 L177.4,51.2 L177.5,51.8 L177.7,52.4 L177.8,53.0 L177.9,53.6 L178.0,54.2 L178.1,54.8 L178.2,55.4 L178.3,56.0 L178.4,56.7 L178.5,57.3 L178.6,57.9 L178.7,58.5 L178.8,59.1 L178.9,59.7 L179.0,60.3 L179.1,60.9 L179.2,61.5 L179.3,62.1 L179.4,62.7 L179.5,63.3 L179.6,63.9 L179.7,64.5 L179.8,65.1 L179.9,65.7 L179.9,66.3 L180.0,66.9 L180.1,67.5 L180.2,68.1 L180.3,68.7 L180.4,69.3 L180.4,69.9 L180.5,70.5 L180.6,71.0 L180.7,71.6 L180.8,72.2 L180.8,72.8 L180.9,73.4 L181.0,74.0 L181.1,74.6 L181.1,75.2 L181.2,75.8 L181.3,76.4 L181.3,77.0 L181.4,77.6 L181.5,78.2 L181.6,78.8 L181.6,79.4 L181.7,79.9 L181.8,80.5 L181.8,81.1 L181.9,81.7 L182.0,82.3 L182.0,82.9 L182.1,83.5 L182.2,84.1 L182.2,84.7 L182.3,85.3 L182.3,85.9 L182.4,86.5 L182.5,87.1 L182.5,87.7 L182.6,88.3 L182.7,88.9 L182.7,89.4 L182.8,90.0 L182.8,90.6 L182.9,91.2 L183.0,91.8 L183.0,92.4 L183.1,93.0 L183.1,93.6 L183.2,94.2 L183.2,94.8 L183.3,95.4 L183.4,96.0 L183.4,96.6 L183.5,97.2 L183.5,97.8 L183.6,98.4 L183.6,99.0 L183.7,99.6 L183.8,100.2 L183.8,100.8 L183.9,101.4 L183.9,102.0 L184.0,102.6 L184.0,103.2 L184.1,103.8 L184.2,104.4 L184.2,105.0 L184.3,105.6 L184.3,106.2 L184.4,106.8 L184.4,107.4 L184.5,108.0 L184.5,108.6 L184.6,109.2 L184.7,109.8 L184.7,110.4 L184.8,111.0 L184.8,111.6 L184.9,112.2 L184.9,112.8 L185.0,113.3 L185.1,113.9 L185.1,114.5 L185.2,115.1 L185.2,115.7 L185.3,116.3 L185.4,116.9 L185.4,117.5 L185.5,118.1 L185.5,118.7 L185.6,119.3 L185.7,119.9 L185.7,120.5 L185.8,121.1 L185.9,121.7 L185.9,122.3 L186.0,122.9 L186.0,123.5 L186.1,124.1 L186.2,124.7 L186.2,125.3 L186.3,125.9 L186.4,126.5 L186.4,127.1 L186.5,127.7 L186.6,128.3 L186.6,128.9 L186.7,129.5 L186.8,130.1 L186.8,130.7 L186.9,131.3 L187.0,131.9 L187.0,132.5 L187.1,133.1 L187.2,133.7 L187.3,134.2 L187.3,134.8 L187.4,135.4 L187.5,136.0 L187.5,136.6 L187.6,137.2 L187.7,137.8 L187.8,138.4 L187.8,139.0 L187.9,139.6 L188.0,140.2 L188.1,140.8 L188.1,141.4 L188.2,142.0 L188.3,142.6 L188.4,143.2 L188.4,143.8 L188.5,144.4 L188.6,145.0 L188.7,145.6 L188.8,146.2 L188.8,146.7 L188.9,147.3 L189.0,147.9 L189.1,148.5 L189.2,149.1 L189.3,149.7 L189.3,150.3 L189.4,150.9 L189.5,151.5 L189.6,152.1 L189.7,152.7 L189.8,153.3 L189.9,153.9 L189.9,154.5 L190.0,155.1 L190.1,155.6 L190.2,156.2 L190.3,156.8 L190.4,157.4 L190.5,158.0 L190.6,158.6 L190.7,159.2 L190.8,159.8 L190.9,160.4 L191.0,161.0 L191.1,161.6 L191.2,162.2 L191.2,162.8 L191.3,163.3 L191.4,163.9 L191.5,164.5 L191.6,165.1 L191.7,165.7 L191.8,166.3 L191.9,166.9 L192.1,167.5 L192.2,168.1 L192.3,168.7 L192.4,169.2 L192.5,169.8 L192.6,170.4 L192.7,171.0 L192.8,171.6 L192.9,172.2 L193.0,172.8 L193.1,173.4 L193.2,174.0 L193.3,174.5 L193.5,175.1 L193.6,175.7 L193.7,176.3 L193.8,176.9 L193.9,177.5 L194.0,178.1 L194.1,178.7 L194.3,179.3 L194.4,179.8 L194.5,180.4 L194.6,181.0 L194.7,181.6 L194.8,182.2 L195.0,182.8 L195.1,183.4 L195.2,184.0 L195.3,184.5 L195.4,185.1 L195.6,185.7 L195.7,186.3 L195.8,186.9 L195.9,187.5 L196.0,188.1 L196.2,188.7 L196.3,189.3 L196.4,189.8 L196.5,190.4 L196.6,191.0 L196.8,191.6 L196.9,192.2 L197.0,192.8 L197.1,193.4 L197.2,194.0 L197.4,194.6 L197.5,195.2 L197.6,195.7 L197.7,196.3 L197.9,196.9 L198.0,197.5 L198.1,198.1 L198.2,198.7 L198.3,199.3 L198.5,199.9 L198.6,200.5 L198.7,201.1 L198.8,201.7 L198.9,202.2 L199.1,202.8 L199.2,203.4 L199.3,204.0 L199.4,204.6 L199.6,205.2 L199.7,205.8 L199.8,206.4 L199.9,207.0 L200.1,207.6 L200.2,208.1 L200.4,208.7 L200.5,209.3 L200.7,209.9 L200.9,210.4 L201.0,211.0 L201.2,211.6 L201.4,212.1 L201.6,212.7 L201.8,213.3 L202.0,213.8 L202.3,214.3 L202.5,214.9 L202.8,215.4 L203.0,216.0 L203.3,216.5 L203.6,217.0 L203.9,217.5 L204.3,218.0 L204.6,218.5 L205.0,219.0 L205.3,219.4 L205.7,219.7 L206.2,220.0 L206.6,220.0 L207.1,220.0 L207.6,219.8 L208.1,219.6 L208.6,219.2 L209.0,218.8 L209.5,218.3 L209.9,217.8 L210.3,217.3 L210.7,216.7 L211.0,216.2 L211.4,215.6 L211.7,215.0 L212.0,214.5 L212.3,213.9 L212.6,213.4 L212.9,212.9 L213.2,212.4 L213.5,211.9 L213.8,211.4 L214.1,210.9 L214.5,210.4 L214.8,209.9 L215.2,209.3 L215.6,208.8 L216.1,208.3 L216.5,207.9 L217.0,207.5 L217.4,207.2 L217.9,206.9 L218.4,206.7 L218.9,206.7 L219.4,206.8 L219.9,206.9 L220.4,207.2 L220.9,207.5 L221.3,207.9 L221.7,208.2 L222.2,208.6 L222.6,209.1 L223.0,209.5 L223.3,210.0 L223.7,210.4 L224.0,210.9 L224.4,211.4 L224.7,211.9 L225.0,212.5 L225.4,213.0 L225.7,213.6 L226.0,214.1 L226.3,214.6 L226.6,215.2 L226.9,215.8 L227.2,216.3 L227.5,216.9 L227.8,217.4 L228.1,217.9 L228.4,218.5 L228.7,219.0 L229.1,219.5 L229.4,220.0 L229.8,220.5 L230.1,221.0 L230.5,221.4 L230.9,221.9 L231.3,222.3 L231.7,222.7 L232.1,223.1 L232.5,223.4 L233.0,223.8 L233.5,224.1 L234.0,224.4 L234.5,224.7 L235.0,224.9 L235.6,225.2 L236.1,225.4 L236.7,225.6 L237.3,225.8 L237.9,225.9 L238.4,226.1 L239.0,226.2 L239.6,226.3 L240.2,226.4 L240.8,226.6 L241.4,226.6 L242.0,226.7 L242.6,226.8 L243.2,226.9 L243.8,226.9 L244.4,227.0 L245.0,227.0 L245.6,227.0 L246.2,227.0 L246.8,227.1 L247.4,227.1 L248.0,227.1 L248.6,227.1 L249.2,227.1 L249.8,227.1 L250.4,227.1 L251.0,227.1 L251.6,227.1 L252.2,227.1 L252.8,227.1 L253.4,227.1 L254.0,227.1 L254.6,227.1 L255.2,227.1 L255.8,227.1 L256.4,227.1 L257.0,227.1 L257.6,227.1 L258.2,227.1 L258.8,227.2 L259.4,227.2 L260.0,227.2 L260.6,227.2 L261.2,227.2 L261.8,227.2 L262.4,227.2 L263.0,227.2 L263.6,227.2 L264.2,227.2 L264.8,227.2 L265.4,227.2 L266.0,227.2 L266.6,227.2 L267.2,227.2 L267.8,227.2 L268.4,227.2 L269.0,227.2 L269.6,227.2 L270.2,227.2 L270.8,227.2 L271.4,227.2 L272.0,227.2 L272.6,227.2 L273.2,227.2 L273.8,227.2 L274.4,227.2 L275.0,227.2 L275.6,227.2 L276.2,227.2 L276.8,227.2 L277.4,227.2 L278.0,227.2 L278.6,227.2 L279.2,227.2 L279.8,227.2 L280.4,227.2 L281.0,227.2 L281.6,227.2 L282.2,227.2 L282.8,227.2 L283.4,227.2 L284.0,227.2 L284.6,227.2 L285.2,227.2 L285.8,227.2 L286.4,227.2 L287.0,227.2 L287.6,227.2 L288.2,227.2 L288.8,227.2 L289.4,227.2 L290.0,227.2 L290.6,227.2 L291.2,227.2 L291.8,227.2 L292.4,227.2 L293.0,227.2 L293.6,227.2 L294.2,227.2 L294.8,227.2 L295.4,227.2 L296.0,227.2 L296.6,227.2 L297.2,227.2 L297.8,227.2 L298.4,227.2 L299.0,227.2 L299.6,227.2 L300.2,227.2 L300.8,227.2 L301.4,227.2 L302.0,227.2 L302.6,227.2 L303.2,227.2 L303.8,227.2 L304.4,227.2 L305.0,227.2 L305.6,227.2 L306.2,227.2 L306.8,227.2 L307.4,227.2 L308.0,227.2 L308.6,227.2 L309.2,227.2 L309.8,227.2 L310.4,227.2 L311.0,227.2 L311.6,227.2 L312.2,227.2 L312.8,227.2 L313.4,227.2 L314.0,227.2 L314.6,227.2 L315.2,227.2 L315.8,227.2 L316.4,227.2 L317.0,227.2 L317.6,227.2 L318.2,227.2 L318.8,227.2 L319.4,227.2 L320.0,227.2 L320.6,227.2 L321.2,227.2 L321.8,227.2 L322.4,227.2 L323.0,227.2 L323.6,227.2 L324.2,227.2 L324.8,227.2 L325.4,227.2 L326.0,227.2 L326.6,227.2 L327.2,227.2 L327.8,227.2 L328.4,227.2 L329.0,227.2 L329.6,227.2 L330.2,227.2 L330.8,227.2 L331.4,227.2 L332.0,227.2 L332.6,227.2 L333.2,227.2 L333.8,227.2 L334.4,227.2 L335.0,227.2 L335.6,227.2 L336.2,227.2 L336.8,227.2 L337.4,227.2 L338.0,227.2 L338.6,227.2 L339.2,227.2 L339.8,227.2 L340.4,227.2 L341.0,227.2" stroke="#000" stroke-width="1.4" fill="none" stroke-linejoin="round"/>
<path d="M61.5,431.5 L62.1,431.5 L62.7,431.5 L63.3,431.5 L63.9,431.5 L64.5,431.5 L65.1,431.5 L65.7,431.5 L66.3,431.5 L66.9,431.5 L67.5,431.5 L68.1,431.5 L68.7,431.5 L69.3,431.5 L69.9,431.5 L70.5,431.5 L71.1,431.5 L71.7,431.5 L72.3,431.5 L72.9,431.5 L73.5,431.5 L74.1,431.5 L74.7,431.5 L75.3,431.5 L75.9,431.5 L76.5,431.5 L77.1,431.5 L77.7,431.5 L78.3,431.5 L78.9,431.5 L79.5,431.5 L80.1,431.5 L80.7,431.5 L81.3,431.5 L81.9,431.5 L82.5,431.5 L83.1,431.5 L83.7,431.5 L84.3,431.5 L84.9,431.5 L85.5,431.5 L86.1,431.5 L86.7,431.5 L87.3,431.5 L87.9,431.5 L88.5,431.5 L89.1,431.5 L89.7,431.5 L90.3,431.5 L90.9,431.5 L91.5,431.5 L92.1,431.5 L92.7,431.5 L93.3,431.5 L93.9,431.5 L94.5,431.5 L95.1,431.5 L95.7,431.5 L96.3,431.5 L96.9,431.5 L97.5,431.5 L98.1,431.5 L98.7,431.5 L99.3,431.5 L99.9,431.5 L100.5,431.5 L101.1,431.5 L101.7,431.5 L102.3,431.5 L102.9,431.5 L103.5,431.5 L104.1,431.5 L104.7,431.5 L105.3,431.5 L105.9,431.5 L106.5,431.5 L107.1,431.5 L107.7,431.5 L108.3,431.5 L108.9,431.5 L109.5,431.5 L110.1,431.5 L110.7,431.5 L111.3,431.5 L111.9,431.5 L112.5,431.5 L113.1,431.5 L113.7,431.5 L114.3,431.5 L114.9,431.5 L115.5,431.5 L116.1,431.5 L116.7,431.5 L117.3,431.5 L117.9,431.5 L118.5,431.5 L119.1,431.5 L119.7,431.5 L120.3,431.5 L120.9,431.5 L121.5,431.5 L122.1,431.5 L122.7,431.5 L123.3,431.5 L123.9,431.5 L124.5,431.5 L125.1,431.5 L125.7,431.5 L126.3,431.5 L126.9,431.5 L127.5,431.5 L128.1,431.5 L128.7,431.4 L129.3,431.4 L129.9,431.4 L130.5,431.4 L131.1,431.4 L131.7,431.4 L132.3,431.3 L132.9,431.3 L133.5,431.3 L134.1,431.3 L134.7,431.2 L135.3,431.2 L135.9,431.1 L136.5,431.1 L137.1,431.0 L137.7,431.0 L138.3,430.9 L138.9,430.8 L139.5,430.7 L140.1,430.7 L140.7,430.6 L141.3,430.5 L141.9,430.4 L142.4,430.2 L143.0,430.1 L143.6,430.0 L144.2,429.8 L144.8,429.7 L145.3,429.5 L145.9,429.3 L146.5,429.2 L147.0,429.0 L147.6,428.8 L148.2,428.6 L148.7,428.3 L149.3,428.1 L149.8,427.8 L150.3,427.6 L150.9,427.3 L151.4,427.0 L151.9,426.7 L152.4,426.4 L152.9,426.1 L153.4,425.8 L153.9,425.4 L154.4,425.0 L154.8,424.7 L155.3,424.3 L155.7,423.9 L156.2,423.5 L156.6,423.1 L157.0,422.6 L157.4,422.2 L157.8,421.7 L158.1,421.2 L158.5,420.7 L158.8,420.2 L159.1,419.7 L159.4,419.1 L159.7,418.6 L159.9,418.0 L160.2,417.5 L160.4,416.9 L160.6,416.2 L160.8,415.6 L161.0,415.0 L161.2,414.4 L161.4,413.8 L161.6,413.2 L161.8,412.6 L162.0,412.1 L162.3,411.6 L162.6,411.2 L162.9,410.7 L163.3,410.4 L163.8,410.1 L164.2,409.9 L164.8,409.7 L165.4,409.6 L166.0,409.5 L166.7,409.5 L167.3,409.4 L167.8,409.2 L168.2,408.9 L168.7,408.6 L169.0,408.3 L169.4,407.9 L169.7,407.4 L169.9,407.0 L170.2,406.5 L170.4,406.0 L170.6,405.4 L170.7,404.8 L170.9,404.3 L171.0,403.7 L171.1,403.0 L171.2,402.4 L171.3,401.8 L171.4,401.1 L171.4,400.5 L171.5,399.9 L171.5,399.2 L171.6,398.6 L171.7,398.0 L171.7,397.4 L171.8,396.7 L171.8,396.1 L171.9,395.5 L172.0,394.9 L172.0,394.3 L172.1,393.7 L172.1,393.1 L172.2,392.5 L172.2,392.0 L172.3,391.4 L172.4,390.8 L172.4,390.2 L172.5,389.6 L172.5,389.0 L172.6,388.4 L172.6,387.8 L172.7,387.2 L172.7,386.6 L172.8,386.1 L172.8,385.5 L172.9,384.9 L172.9,384.3 L173.0,383.7 L173.0,383.1 L173.0,382.5 L173.1,381.9 L173.1,381.3 L173.2,380.7 L173.2,380.1 L173.3,379.5 L173.3,378.9 L173.3,378.3 L173.4,377.7 L173.4,377.1 L173.5,376.5 L173.5,375.9 L173.6,375.3 L173.6,374.7 L173.6,374.2 L173.7,373.6 L173.7,373.0 L173.8,372.4 L173.8,371.8 L173.8,371.2 L173.9,370.6 L173.9,370.0 L174.0,369.4 L174.0,368.8 L174.0,368.2 L174.1,367.6 L174.1,367.0 L174.1,366.4 L174.2,365.8 L174.2,365.2 L174.2,364.6 L174.3,364.0 L174.3,363.4 L174.4,362.8 L174.4,362.2 L174.4,361.6 L174.5,361.0 L174.5,360.4 L174.5,359.8 L174.6,359.2 L174.6,358.6 L174.7,358.0 L174.7,357.4 L174.7,356.8 L174.8,356.2 L174.8,355.6 L174.8,355.0 L174.9,354.4 L174.9,353.8 L174.9,353.2 L175.0,352.6 L175.0,352.0 L175.1,351.4 L175.1,350.8 L175.1,350.2 L175.2,349.6 L175.2,349.0 L175.3,348.4 L175.3,347.8 L175.3,347.2 L175.4,346.6 L175.4,346.0 L175.4,345.4 L175.5,344.8 L175.5,344.2 L175.6,343.6 L175.6,343.0 L175.6,342.4 L175.7,341.8 L175.7,341.2 L175.7,340.6 L175.8,340.0 L175.8,339.4 L175.9,338.8 L175.9,338.2 L175.9,337.6 L176.0,337.0 L176.0,336.4 L176.1,335.8 L176.1,335.2 L176.1,334.6 L176.2,334.0 L176.2,333.4 L176.3,332.8 L176.3,332.2 L176.3,331.6 L176.4,331.0 L176.4,330.4 L176.5,329.8 L176.5,329.2 L176.5,328.6 L176.6,328.0 L176.6,327.4 L176.7,326.8 L176.7,326.2 L176.7,325.6 L176.8,325.0 L176.8,324.4 L176.9,323.8 L176.9,323.2 L176.9,322.6 L177.0,322.0 L177.0,321.4 L177.1,320.8 L177.1,320.2 L177.1,319.6 L177.2,319.0 L177.2,318.4 L177.3,317.8 L177.3,317.2 L177.3,316.6 L177.4,316.0 L177.4,315.4 L177.5,314.8 L177.5,314.3 L177.5,313.7 L177.6,313.1 L177.6,312.5 L177.7,311.9 L177.7,311.3 L177.7,310.7 L177.8,310.1 L177.8,309.5 L177.9,308.9 L177.9,308.3 L177.9,307.7 L178.0,307.1 L178.0,306.5 L178.1,305.9 L178.1,305.3 L178.2,304.7 L178.2,304.1 L178.2,303.5 L178.3,302.9 L178.3,302.3 L178.4,301.7 L178.4,301.1 L178.4,300.5 L178.5,299.9 L178.5,299.3 L178.6,298.7 L178.6,298.1 L178.6,297.5 L178.7,296.9 L178.7,296.3 L178.8,295.7 L178.8,295.1 L178.8,294.5 L178.9,293.9 L178.9,293.3 L179.0,292.7 L179.0,292.1 L179.1,291.5 L179.1,290.9 L179.1,290.3 L179.2,289.7 L179.2,289.1 L179.3,288.5 L179.3,287.9 L179.4,287.3 L179.4,286.7 L179.4,286.1 L179.5,285.5 L179.5,284.9 L179.6,284.3 L179.6,283.7 L179.7,283.1 L179.7,282.5 L179.8,281.9 L179.8,281.3 L179.9,280.7 L179.9,280.1 L180.0,279.5 L180.0,278.9 L180.1,278.3 L180.1,277.7 L180.2,277.1 L180.3,276.6 L180.3,276.0 L180.4,275.4 L180.4,274.8 L180.5,274.2 L180.6,273.6 L180.6,273.0 L180.7,272.4 L180.7,271.8 L180.8,271.2 L180.9,270.6 L180.9,270.0 L181.0,269.4 L181.1,268.8 L181.2,268.2 L181.2,267.6 L181.3,267.0 L181.4,266.4 L181.5,265.8 L181.5,265.2 L181.6,264.6 L181.7,264.0 L181.8,263.4 L181.9,262.8 L182.0,262.3 L182.1,261.7 L182.2,261.1 L182.4,260.5 L182.5,259.9 L182.6,259.3 L182.8,258.7 L182.9,258.1 L183.1,257.6 L183.2,257.0 L183.4,256.4 L183.6,255.8 L183.7,255.3 L183.9,254.7 L184.1,254.1 L184.3,253.6 L184.6,253.0 L184.8,252.4 L185.1,251.9 L185.4,251.4 L185.7,250.9 L186.1,250.4 L186.4,250.0 L186.9,249.6 L187.3,249.2 L187.9,248.8 L188.4,248.5 L189.0,248.3 L189.6,248.1 L190.2,248.0 L190.8,248.1 L191.4,248.2 L191.9,248.4 L192.5,248.6 L193.0,248.9 L193.5,249.3 L193.9,249.7 L194.4,250.1 L194.8,250.6 L195.2,251.1 L195.5,251.6 L195.9,252.1 L196.2,252.6 L196.5,253.1 L196.8,253.6 L197.1,254.1 L197.4,254.7 L197.7,255.2 L197.9,255.7 L198.2,256.3 L198.4,256.8 L198.6,257.4 L198.8,257.9 L199.0,258.5 L199.2,259.0 L199.4,259.6 L199.6,260.2 L199.8,260.7 L199.9,261.3 L200.1,261.9 L200.3,262.5 L200.4,263.0 L200.5,263.6 L200.7,264.2 L200.8,264.8 L200.9,265.4 L201.1,266.0 L201.2,266.6 L201.3,267.2 L201.4,267.7 L201.5,268.3 L201.7,268.9 L201.8,269.5 L201.9,270.1 L202.0,270.7 L202.1,271.3 L202.2,271.9 L202.4,272.5 L202.5,273.1 L202.6,273.7 L202.7,274.2 L202.8,274.8 L203.0,275.4 L203.1,276.0 L203.2,276.6 L203.3,277.2 L203.4,277.8 L203.6,278.4 L203.7,278.9 L203.8,279.5 L203.9,280.1 L204.1,280.7 L204.2,281.3 L204.3,281.9 L204.4,282.4 L204.6,283.0 L204.7,283.6 L204.8,284.2 L204.9,284.7 L205.1,285.3 L205.2,285.9 L205.3,286.5 L205.5,287.0 L205.6,287.6 L205.8,288.2 L205.9,288.8 L206.1,289.4 L206.2,290.0 L206.4,290.6 L206.6,291.2 L206.8,291.8 L207.0,292.4 L207.2,293.0 L207.4,293.6 L207.7,294.1 L208.0,294.6 L208.4,294.9 L208.7,295.1 L209.1,295.0 L209.5,294.7 L209.9,294.3 L210.3,293.8 L210.7,293.3 L211.0,292.7 L211.4,292.2 L211.7,291.6 L211.9,291.0 L212.2,290.5 L212.4,289.9 L212.7,289.4 L212.9,288.8 L213.1,288.2 L213.3,287.7 L213.5,287.1 L213.8,286.6 L214.0,286.1 L214.3,285.6 L214.5,285.1 L214.8,284.6 L215.1,284.0 L215.3,283.5 L215.6,283.0 L215.9,282.4 L216.1,281.8 L216.3,281.2 L216.5,280.6 L216.7,279.9 L216.9,279.3 L217.2,278.7 L217.4,278.1 L217.7,277.6 L218.1,277.1 L218.5,276.7 L219.0,276.4 L219.5,276.2 L220.1,276.1 L220.7,276.2 L221.2,276.3 L221.7,276.4 L222.1,276.7 L222.5,277.0 L222.8,277.4 L223.1,277.9 L223.4,278.4 L223.7,278.9 L223.9,279.5 L224.1,280.1 L224.3,280.7 L224.5,281.3 L224.7,281.9 L224.8,282.6 L225.0,283.2 L225.2,283.8 L225.3,284.4 L225.5,285.0 L225.6,285.6 L225.7,286.2 L225.9,286.8 L226.0,287.4 L226.1,288.0 L226.3,288.6 L226.4,289.2 L226.5,289.8 L226.6,290.4 L226.7,290.9 L226.9,291.5 L227.0,292.1 L227.1,292.7 L227.2,293.3 L227.3,293.9 L227.4,294.4 L227.5,295.0 L227.6,295.6 L227.7,296.2 L227.8,296.8 L227.9,297.4 L228.0,298.0 L228.1,298.5 L228.2,299.1 L228.3,299.7 L228.5,300.3 L228.6,300.9 L228.7,301.5 L228.8,302.1 L228.9,302.7 L229.0,303.2 L229.1,303.8 L229.2,304.4 L229.3,305.0 L229.4,305.6 L229.5,306.2 L229.6,306.8 L229.7,307.4 L229.8,308.0 L229.9,308.6 L229.9,309.1 L230.0,309.7 L230.1,310.3 L230.2,310.9 L230.3,311.5 L230.4,312.1 L230.5,312.7 L230.6,313.3 L230.7,313.9 L230.8,314.5 L230.9,315.1 L231.0,315.7 L231.1,316.3 L231.2,316.9 L231.3,317.4 L231.4,318.0 L231.4,318.6 L231.5,319.2 L231.6,319.8 L231.7,320.4 L231.8,321.0 L231.9,321.6 L232.0,322.2 L232.1,322.8 L232.2,323.4 L232.2,324.0 L232.3,324.6 L232.4,325.2 L232.5,325.8 L232.6,326.4 L232.7,327.0 L232.8,327.6 L232.8,328.1 L232.9,328.7 L233.0,329.3 L233.1,329.9 L233.2,330.5 L233.3,331.1 L233.3,331.7 L233.4,332.3 L233.5,332.9 L233.6,333.5 L233.7,334.1 L233.8,334.7 L233.8,335.3 L233.9,335.9 L234.0,336.5 L234.1,337.1 L234.2,337.7 L234.2,338.3 L234.3,338.9 L234.4,339.5 L234.5,340.0 L234.6,340.6 L234.6,341.2 L234.7,341.8 L234.8,342.4 L234.9,343.0 L235.0,343.6 L235.0,344.2 L235.1,344.8 L235.2,345.4 L235.3,346.0 L235.4,346.6 L235.4,347.2 L235.5,347.8 L235.6,348.4 L235.7,349.0 L235.8,349.6 L235.9,350.2 L235.9,350.8 L236.0,351.4 L236.1,351.9 L236.2,352.5 L236.3,353.1 L236.3,353.7 L236.4,354.3 L236.5,354.9 L236.6,355.5 L236.7,356.1 L236.8,356.7 L236.8,357.3 L236.9,357.9 L237.0,358.5 L237.1,359.1 L237.2,359.7 L237.3,360.3 L237.3,360.9 L237.4,361.4 L237.5,362.0 L237.6,362.6 L237.7,363.2 L237.8,363.8 L237.9,364.4 L238.0,365.0 L238.0,365.6 L238.1,366.2 L238.2,366.8 L238.3,367.4 L238.4,368.0 L238.5,368.6 L238.6,369.2 L238.7,369.8 L238.8,370.3 L238.9,370.9 L239.0,371.5 L239.0,372.1 L239.1,372.7 L239.2,373.3 L239.3,373.9 L239.4,374.5 L239.5,375.1 L239.6,375.7 L239.7,376.3 L239.8,376.9 L239.9,377.4 L240.0,378.0 L240.1,378.6 L240.2,379.2 L240.3,379.8 L240.4,380.4 L240.5,381.0 L240.6,381.6 L240.7,382.2 L240.8,382.8 L241.0,383.3 L241.1,383.9 L241.2,384.5 L241.3,385.1 L241.4,385.7 L241.5,386.3 L241.6,386.9 L241.7,387.5 L241.8,388.1 L242.0,388.6 L242.1,389.2 L242.2,389.8 L242.3,390.4 L242.4,391.0 L242.5,391.6 L242.7,392.2 L242.8,392.8 L242.9,393.3 L243.0,393.9 L243.2,394.5 L243.3,395.1 L243.4,395.7 L243.6,396.3 L243.7,396.9 L243.8,397.4 L244.0,398.0 L244.1,398.6 L244.3,399.2 L244.4,399.8 L244.6,400.4 L244.7,400.9 L244.9,401.5 L245.0,402.1 L245.2,402.7 L245.3,403.3 L245.5,403.8 L245.6,404.4 L245.8,405.0 L246.0,405.6 L246.2,406.1 L246.3,406.7 L246.5,407.3 L246.7,407.9 L246.9,408.5 L247.0,409.0 L247.2,409.6 L247.4,410.2 L247.6,410.8 L247.8,411.3 L248.0,411.9 L248.2,412.5 L248.4,413.0 L248.6,413.6 L248.8,414.2 L249.0,414.7 L249.3,415.3 L249.5,415.9 L249.7,416.4 L249.9,417.0 L250.2,417.6 L250.4,418.1 L250.7,418.7 L250.9,419.2 L251.2,419.8 L251.5,420.3 L251.7,420.8 L252.0,421.4 L252.3,421.9 L252.6,422.4 L253.0,422.9 L253.3,423.4 L253.6,423.8 L254.0,424.3 L254.3,424.8 L254.7,425.2 L255.1,425.7 L255.5,426.1 L255.9,426.5 L256.4,426.9 L256.8,427.3 L257.3,427.6 L257.8,428.0 L258.3,428.3 L258.8,428.6 L259.3,429.0 L259.8,429.3 L260.4,429.5 L260.9,429.7 L261.5,429.9 L262.1,430.1 L262.7,430.3 L263.2,430.4 L263.8,430.5 L264.4,430.6 L265.1,430.7 L265.6,430.8 L266.2,430.8 L266.8,430.9 L267.4,431.0 L268.0,431.0 L268.6,431.1 L269.2,431.1 L269.8,431.2 L270.4,431.2 L271.0,431.3 L271.6,431.3 L272.2,431.4 L272.8,431.4 L273.4,431.4 L274.0,431.4 L274.6,431.4 L275.2,431.5 L275.8,431.5 L276.4,431.5 L277.0,431.5 L277.6,431.5 L278.2,431.5 L278.8,431.5 L279.4,431.5 L280.0,431.5 L280.6,431.5 L281.2,431.5 L281.8,431.5 L282.4,431.5 L283.0,431.5 L283.6,431.5 L284.2,431.5 L284.8,431.5 L285.4,431.5 L286.0,431.5 L286.6,431.5 L287.2,431.5 L287.8,431.5 L288.4,431.5 L289.0,431.5 L289.6,431.5 L290.2,431.5 L290.8,431.5 L291.4,431.5 L292.0,431.5 L292.6,431.5 L293.2,431.5 L293.8,431.5 L294.4,431.5 L295.0,431.5 L295.6,431.5 L296.2,431.5 L296.8,431.5 L297.4,431.5 L298.0,431.5 L298.6,431.5 L299.2,431.5 L299.8,431.5 L300.4,431.5 L301.0,431.5 L301.6,431.5 L302.2,431.5 L302.8,431.5 L303.4,431.5 L304.0,431.5 L304.6,431.5 L305.2,431.5 L305.8,431.5 L306.4,431.5 L307.0,431.5 L307.6,431.5 L308.2,431.5 L308.8,431.5 L309.4,431.5 L310.0,431.5 L310.6,431.5 L311.2,431.5 L311.8,431.5 L312.4,431.5 L313.0,431.5 L313.6,431.5 L314.2,431.5 L314.8,431.5 L315.4,431.5 L316.0,431.5 L316.6,431.5 L317.2,431.5 L317.8,431.5 L318.4,431.5 L319.0,431.5 L319.6,431.5 L320.2,431.5 L320.8,431.5 L321.4,431.5 L322.0,431.5 L322.6,431.5 L323.2,431.5 L323.8,431.5 L324.4,431.5 L325.0,431.5 L325.6,431.5 L326.2,431.5 L326.8,431.5 L327.4,431.5 L328.0,431.5 L328.6,431.5 L329.2,431.5 L329.8,431.5 L330.4,431.5 L331.0,431.5 L331.6,431.5 L332.2,431.5 L332.8,431.5 L333.4,431.5 L334.0,431.5 L334.6,431.5 L335.2,431.5 L335.8,431.5" stroke="#ff0000" stroke-width="1.55" fill="none" stroke-linejoin="round"/>
<path d="M231,49.4H269.6" stroke="#a89e1a" stroke-width="1.5"/>
<path d="M232.4,76.6H261.1" stroke="#000" stroke-width="1.5"/>
<path d="M234.5,247.45H273.8" stroke="#a89e1a" stroke-width="1.5"/>
<path d="M234,274.25H273.2" stroke="#ff0000" stroke-width="1.5"/>
<text x="52.7" y="231.70" font-family="Liberation Sans, sans-serif" stroke="#000" stroke-width="0.22" font-size="12.6" text-anchor="end">0</text>
<text x="53.4" y="435.70" font-family="Liberation Sans, sans-serif" stroke="#000" stroke-width="0.22" font-size="12.6" text-anchor="end">0</text>
<text x="52.7" y="195.26" font-family="Liberation Sans, sans-serif" stroke="#000" stroke-width="0.22" font-size="12.6" text-anchor="end">10</text>
<text x="53.4" y="398.54" font-family="Liberation Sans, sans-serif" stroke="#000" stroke-width="0.22" font-size="12.6" text-anchor="end">10</text>
<text x="52.7" y="159.32" font-family="Liberation Sans, sans-serif" stroke="#000" stroke-width="0.22" font-size="12.6" text-anchor="end">20</text>
<text x="53.4" y="361.38" font-family="Liberation Sans, sans-serif" stroke="#000" stroke-width="0.22" font-size="12.6" text-anchor="end">20</text>
<text x="52.7" y="123.38" font-family="Liberation Sans, sans-serif" stroke="#000" stroke-width="0.22" font-size="12.6" text-anchor="end">30</text>
<text x="53.4" y="324.22" font-family="Liberation Sans, sans-serif" stroke="#000" stroke-width="0.22" font-size="12.6" text-anchor="end">30</text>
<text x="52.7" y="87.44" font-family="Liberation Sans, sans-serif" stroke="#000" stroke-width="0.22" font-size="12.6" text-anchor="end">40</text>
<text x="53.4" y="287.06" font-family="Liberation Sans, sans-serif" stroke="#000" stroke-width="0.22" font-size="12.6" text-anchor="end">40</text>
<text x="52.7" y="51.50" font-family="Liberation Sans, sans-serif" stroke="#000" stroke-width="0.22" font-size="12.6" text-anchor="end">50</text>
<text x="53.4" y="249.90" font-family="Liberation Sans, sans-serif" stroke="#000" stroke-width="0.22" font-size="12.6" text-anchor="end">50</text>
<text x="96.25" y="449.0" font-family="Liberation Sans, sans-serif" stroke="#000" stroke-width="0.22" font-size="12.7" text-anchor="middle">707</text>
<text x="166.15" y="449.0" font-family="Liberation Sans, sans-serif" stroke="#000" stroke-width="0.22" font-size="12.7" text-anchor="middle">709</text>
<text x="236.05" y="449.0" font-family="Liberation Sans, sans-serif" stroke="#000" stroke-width="0.22" font-size="12.7" text-anchor="middle">711</text>
<text x="305.95" y="449.0" font-family="Liberation Sans, sans-serif" stroke="#000" stroke-width="0.22" font-size="12.7" text-anchor="middle">713</text>
<text x="201.5" y="469.0" font-family="Liberation Sans, sans-serif" stroke="#000" stroke-width="0.22" font-size="14.75" text-anchor="middle">Energy (eV)</text>
<text transform="translate(27.9,226.2) rotate(-90)" font-family="Liberation Sans, sans-serif" stroke="#000" stroke-width="0.22" font-size="14.75" text-anchor="middle">Calculated Intensity (arb. units)</text>
<text x="69.20" y="55.40" font-family="Liberation Sans, sans-serif" stroke="#000" stroke-width="0.22" font-size="18.2">(a)<tspan font-family="Liberation Serif, serif" font-size="19.2" dx="5.0" stroke-width="0.25">δ</tspan><tspan font-weight="bold" dx="-0.9" font-size="18.8">r</tspan><tspan font-weight="bold" font-size="18.8" dy="4.9" dx="0.2">n</tspan><tspan dy="-4.9" dx="5.3">=</tspan><tspan dx="4.5">0</tspan></text>
<text x="68.80" y="253.30" font-family="Liberation Sans, sans-serif" stroke="#000" stroke-width="0.22" font-size="18.2">(b)<tspan font-family="Liberation Serif, serif" font-size="19.2" dx="5.0" stroke-width="0.25">δ</tspan><tspan font-weight="bold" dx="-0.9" font-size="18.8">r</tspan><tspan font-weight="bold" font-size="18.8" dy="4.9" dx="0.2">n</tspan><tspan dy="-4.9" dx="5.8">≠</tspan><tspan dx="5.4">0</tspan></text>
<text x="274.20" y="55.10" font-family="Liberation Sans, sans-serif" stroke="#000" stroke-width="0.22" font-size="17.3">(0,0,</text><text transform="translate(308.90,55.10) scale(1.14,1)" font-family="Liberation Serif, serif" font-size="20.8" stroke="#000" stroke-width="0.1">τ</text><text x="318.90" y="55.10" font-family="Liberation Sans, sans-serif" stroke="#000" stroke-width="0.22" font-size="17.3">)</text>
<text x="264.10" y="81.60" font-family="Liberation Sans, sans-serif" stroke="#000" stroke-width="0.22" font-size="17.3">(0,0,3</text><text transform="translate(307.10,81.60) scale(1.14,1)" font-family="Liberation Serif, serif" font-size="20.8" stroke="#000" stroke-width="0.1">τ</text><text x="317.60" y="81.60" font-family="Liberation Sans, sans-serif" stroke="#000" stroke-width="0.22" font-size="17.3">)</text>
<text x="278.00" y="252.80" font-family="Liberation Sans, sans-serif" stroke="#000" stroke-width="0.22" font-size="17.6">(0,0,</text><text transform="translate(312.80,252.80) scale(1.14,1)" font-family="Liberation Serif, serif" font-size="20.8" stroke="#000" stroke-width="0.1">τ</text><text x="323.20" y="252.80" font-family="Liberation Sans, sans-serif" stroke="#000" stroke-width="0.22" font-size="17.6">)</text>
<text x="277.00" y="279.50" font-family="Liberation Sans, sans-serif" stroke="#000" stroke-width="0.22" font-size="17.4">(0,0,3</text><text transform="translate(320.50,279.50) scale(1.14,1)" font-family="Liberation Serif, serif" font-size="20.8" stroke="#000" stroke-width="0.1">τ</text><text x="330.90" y="279.50" font-family="Liberation Sans, sans-serif" stroke="#000" stroke-width="0.22" font-size="17.4">)</text>
</svg>
</body></html>
